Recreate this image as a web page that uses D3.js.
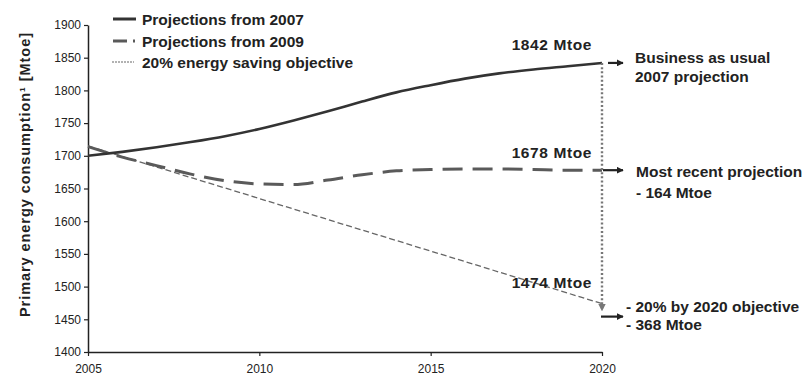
<!DOCTYPE html>
<html>
<head>
<meta charset="utf-8">
<script src="https://cdn.jsdelivr.net/npm/d3@7"></script>
<style>
  html, body { margin: 0; padding: 0; background: #fff; }
  svg { display: block; font-family: "Liberation Sans", Arial, sans-serif; }
</style>
</head>
<body>
<svg id="chart" width="807" height="377"></svg>
<script>
// Primary energy consumption projections, EU (Mtoe)
const years = [2005, 2006, 2007, 2008, 2009, 2010, 2011, 2012, 2013, 2014, 2015, 2016, 2017, 2018, 2019, 2020];
const projections2007 = [1700, 1706, 1713, 1721, 1730, 1741, 1754, 1768, 1783, 1797, 1808, 1818, 1826, 1832, 1837, 1842];
const projections2009 = [1714, 1698, 1685, 1672, 1662, 1657, 1656, 1663, 1671, 1677, 1679, 1680, 1680, 1679, 1678, 1678];
const objectiveYears = [2005, 2020];
const objectiveValues = [1715, 1474];

const xTicks = [2005, 2010, 2015, 2020];
const yTicks = [1400, 1450, 1500, 1550, 1600, 1650, 1700, 1750, 1800, 1850, 1900];

const seriesNames = ["Projections from 2007", "Projections from 2009", "20% energy saving objective"];
const endLabels = ["1842 Mtoe", "1678 Mtoe", "1474 Mtoe"];
const endValues = [1842, 1678, 1474];
const sideNotes = [
  ["Business as usual", "2007 projection"],
  ["Most recent projection", "- 164 Mtoe"],
  ["- 20% by 2020 objective", "- 368 Mtoe"]
];
const yTitle = "Primary energy consumption\u00b9 [Mtoe]";

const svg = d3.select("#chart");
const x = d3.scaleLinear().domain([2005, 2020]).range([88, 602]);
const y = d3.scaleLinear().domain([1400, 1900]).range([352, 25]);

const ink = "#222";
const labelFont = "15.5px";

// axes
const xAxis = svg.append("g")
  .attr("transform", `translate(0,${y(1400)})`)
  .call(d3.axisBottom(x).tickValues(xTicks).tickFormat(d3.format("d")).tickSize(4).tickSizeOuter(0));
const yAxis = svg.append("g")
  .attr("transform", `translate(${x(2005)},0)`)
  .call(d3.axisLeft(y).tickValues(yTicks).tickFormat(d3.format("d")).tickSize(4).tickSizeOuter(0));

[xAxis, yAxis].forEach(g => {
  g.select(".domain").attr("stroke", ink).attr("stroke-width", 1.5);
  g.selectAll(".tick line").attr("stroke", ink).attr("stroke-width", 1.2);
  g.selectAll(".tick text").attr("fill", ink)
    .style("font-family", "'Liberation Sans', Arial, sans-serif").style("font-size", "12px");
});
xAxis.selectAll(".tick text").attr("dy", "0").attr("y", 21);
yAxis.selectAll(".tick text").attr("x", -7);

// axis title
svg.append("text")
  .attr("transform", "translate(30,175) rotate(-90)")
  .attr("text-anchor", "middle")
  .attr("fill", ink)
  .attr("textLength", 284).attr("lengthAdjust", "spacing")
  .style("font-size", "14.5px").style("font-weight", "bold")
  .text(yTitle);

const line = d3.line().x(d => x(d[0])).y(d => y(d[1])).curve(d3.curveMonotoneX);

// objective path (thin dashed)
svg.append("path")
  .datum(objectiveYears.map((yr, i) => [yr, objectiveValues[i]]))
  .attr("d", d3.line().x(d => x(d[0])).y(d => y(d[1])))
  .attr("fill", "none").attr("stroke", "#666").attr("stroke-width", 1.3)
  .attr("stroke-dasharray", "6,3");

// 2009 projections (dashed)
svg.append("path")
  .datum(years.map((yr, i) => [yr, projections2009[i]]))
  .attr("d", line)
  .attr("fill", "none").attr("stroke", "#5a5a5a").attr("stroke-width", 3)
  .attr("stroke-dasharray", "20,10");

// 2007 projections (solid)
svg.append("path")
  .datum(years.map((yr, i) => [yr, projections2007[i]]))
  .attr("d", line)
  .attr("fill", "none").attr("stroke", "#333").attr("stroke-width", 2.6);

// arrow markers
const defs = svg.append("defs");
function marker(id, color) {
  defs.append("marker").attr("id", id)
    .attr("viewBox", "0 0 10 10").attr("refX", 9).attr("refY", 5)
    .attr("markerWidth", 3.2).attr("markerHeight", 3.2).attr("orient", "auto")
    .append("path").attr("d", "M0,0 L10,5 L0,10 Z").attr("fill", color);
}
marker("arrowDark", "#222");
marker("arrowGrey", "#777");

// vertical gap at 2020
svg.append("line")
  .attr("x1", x(2020)).attr("x2", x(2020))
  .attr("y1", y(1842)).attr("y2", y(1474) + 7)
  .attr("stroke", "#777").attr("stroke-width", 2.4)
  .attr("stroke-dasharray", "2,2.2")
  .attr("marker-end", "url(#arrowGrey)");

// right-pointing arrows and notes
const arrowY = [y(endValues[0]), y(endValues[1]), y(endValues[2]) + 13];
const arrowX0 = [608, 603, 601];
arrowY.forEach((ay, i) => {
  svg.append("line")
    .attr("x1", arrowX0[i]).attr("x2", x(2020) + 21)
    .attr("y1", ay).attr("y2", ay)
    .attr("stroke", "#222").attr("stroke-width", 2.2)
    .attr("marker-end", "url(#arrowDark)");
});

const noteX = [635, 636, 626];
const noteY = [58, 172, 307];
const noteGap = [19, 21, 18];
sideNotes.forEach((lines, i) => {
  lines.forEach((t, j) => {
    svg.append("text")
      .attr("x", noteX[i]).attr("y", noteY[i] + j * noteGap[i])
      .attr("dy", "0.35em")
      .attr("fill", ink)
      .style("font-size", labelFont).style("font-weight", "bold")
      .text(t);
  });
});

// value labels at 2020
const labelY = [45, 153, 283];
endLabels.forEach((t, i) => {
  svg.append("text")
    .attr("x", 592).attr("y", labelY[i]).attr("dy", "0.35em")
    .attr("text-anchor", "end")
    .attr("fill", ink)
    .style("font-size", labelFont).style("font-weight", "bold")
    .style("letter-spacing", "0.6px")
    .text(t);
});

// legend
const legendY = [19, 41, 62];
const legend = svg.append("g");
legend.append("line").attr("x1", 113).attr("x2", 136).attr("y1", legendY[0]).attr("y2", legendY[0])
  .attr("stroke", "#333").attr("stroke-width", 3);
legend.append("line").attr("x1", 113).attr("x2", 136).attr("y1", legendY[1]).attr("y2", legendY[1])
  .attr("stroke", "#5a5a5a").attr("stroke-width", 3).attr("stroke-dasharray", "14,6,2,10");
legend.append("line").attr("x1", 112).attr("x2", 134).attr("y1", legendY[2]).attr("y2", legendY[2])
  .attr("stroke", "#999").attr("stroke-width", 1.5).attr("stroke-dasharray", "2,1");
seriesNames.forEach((n, i) => {
  legend.append("text")
    .attr("x", 142).attr("y", legendY[i] + 1).attr("dy", "0.35em")
    .attr("fill", ink)
    .style("font-size", labelFont).style("font-weight", "bold")
    .text(n);
});
</script>
</body>
</html>
